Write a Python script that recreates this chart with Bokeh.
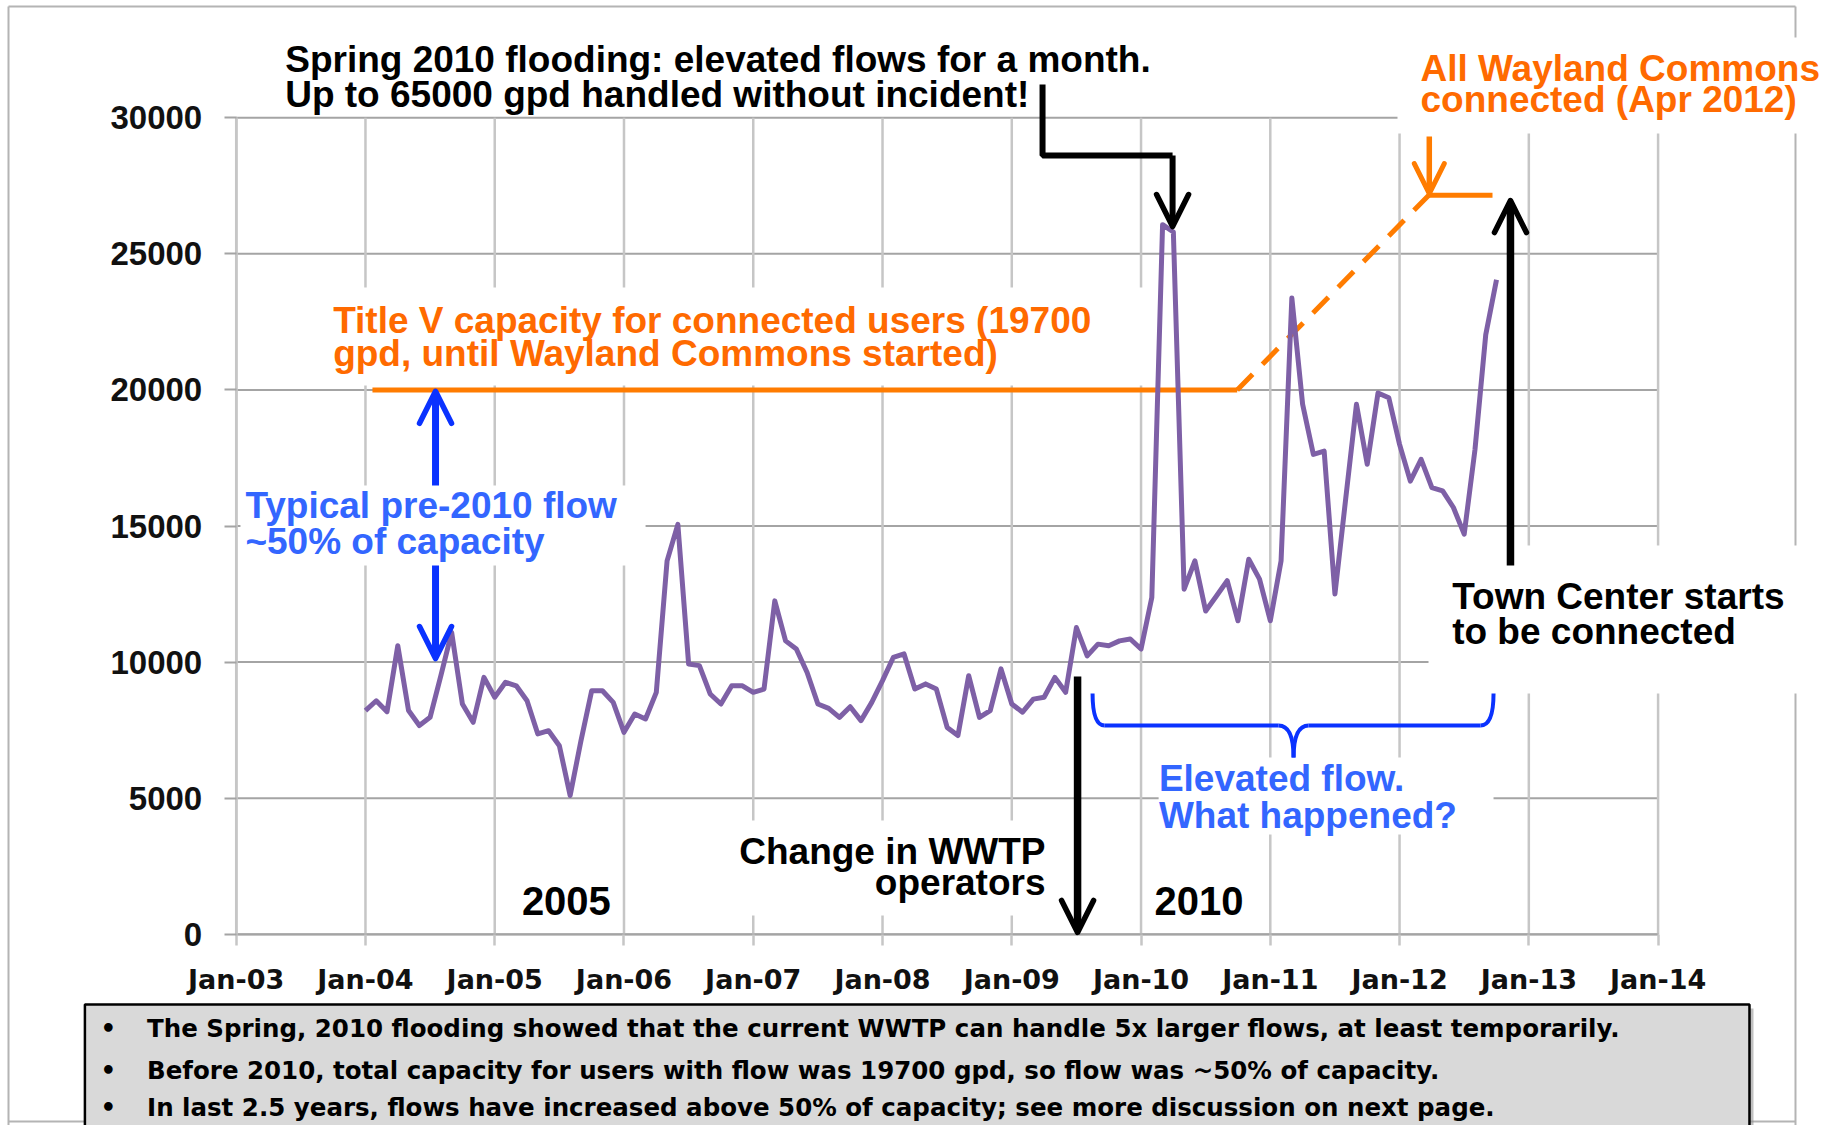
from bokeh.plotting import figure
from bokeh.models import Range1d, FixedTicker, Arrow, OpenHead
from bokeh.core.properties import value
from bokeh.embed import file_html
from bokeh.resources import INLINE

# ---------------- data ----------------
start_year = 2004  # first monthly reading: Jan-2004
flow_gpd = [
    8220, 8580, 8180, 10600, 8220, 7670, 7970, 9500, 11090, 8460, 7790, 9440,      # 2004
    8710, 9260, 9130, 8580, 7360, 7480, 6930, 5100, 7100, 8950, 8950, 8520,        # 2005
    7420, 8090, 7910, 8890, 13720, 15060, 9930, 9870, 8830, 8460, 9130, 9130,      # 2006
    8890, 9010, 12250, 10780, 10480, 9620, 8460, 8300, 7970, 8360, 7850, 8520,     # 2007
    9320, 10170, 10300, 9010, 9200, 9010, 7600, 7300, 9500, 7970, 8220, 9750,      # 2008
    8460, 8160, 8640, 8710, 9440, 8890, 11270, 10230, 10660, 10600, 10780, 10850,  # 2009
    10480, 12370, 26070, 25800, 12680, 13720, 11880, 12430, 12990, 11520, 13780, 13050,  # 2010
    11520, 13720, 23380, 19470, 17630, 17750, 12500, 16000, 19470, 17270, 19890, 19710,  # 2011
    18000, 16650, 17450, 16410, 16290, 15680, 14700, 17800, 22030, 24050,          # 2012
]
month_x = [start_year + i / 12 for i in range(len(flow_gpd))]

x_tick_values = [2003, 2004, 2005, 2006, 2007, 2008, 2009, 2010, 2011, 2012, 2013, 2014]
x_tick_labels = ["Jan-03", "Jan-04", "Jan-05", "Jan-06", "Jan-07", "Jan-08",
                 "Jan-09", "Jan-10", "Jan-11", "Jan-12", "Jan-13", "Jan-14"]
y_tick_values = [0, 5000, 10000, 15000, 20000, 25000, 30000]
y_tick_labels = ["0", "5000", "10000", "15000", "20000", "25000", "30000"]

# capacity line (Title V, then ramp after Wayland Commons, Apr 2012)
capacity_x = [2004.054, 2010.744, 2012.226, 2012.719]
capacity_y = [20000, 20000, 27150, 27150]

bullets = [
    "The Spring, 2010 flooding showed that the current WWTP can handle 5x larger flows, at least temporarily.",
    "Before 2010, total capacity for users with flow was 19700 gpd, so flow was ~50% of capacity.",
    "In last 2.5 years, flows have increased above 50% of capacity; see more discussion on next page.",
]

# ---------------- styles ----------------
FONT = value("Liberation Sans")
PURPLE = "#7E60A6"
ORANGE = "#FF7C00"
ORANGE_TXT = "#FF6A00"
BLUE = "#0A32FF"
BLUE_TXT = "#3366FF"
GRID_H = "#a4a4a4"
GRID_V = "#c6c6c6"
FRAME = "#b4b4b4"

X0, X1 = 2001.1765, 2015.388
Y0, Y1 = -7024, 34306

p = figure(width=1837, height=1125,
           x_range=Range1d(X0, X1), y_range=Range1d(Y0, Y1),
           output_backend="svg", toolbar_location=None, title=None,
           min_border=0, min_border_left=0, min_border_right=0,
           min_border_top=0, min_border_bottom=0)
p.outline_line_color = None
p.xgrid.visible = False
p.ygrid.visible = False
p.background_fill_color = "white"
p.border_fill_color = "white"

# axes inside the frame
xa = p.xaxis[0]
xa.fixed_location = 0
xa.bounds = (x_tick_values[0], x_tick_values[-1])
xa.ticker = FixedTicker(ticks=x_tick_values)
xa.major_label_overrides = dict(zip(x_tick_values, x_tick_labels))
xa.axis_line_color = GRID_H
xa.axis_line_width = 2
xa.major_tick_line_color = GRID_V
xa.major_tick_line_width = 2.5
xa.major_tick_out = 11
xa.major_tick_in = 0
xa.minor_tick_line_color = None
xa.major_label_standoff = 19
xa.major_label_text_font = "DejaVu Sans"
xa.major_label_text_font_style = "bold"
xa.major_label_text_font_size = "27px"
xa.major_label_text_color = "#111111"

ya = p.yaxis[0]
ya.fixed_location = x_tick_values[0]
ya.bounds = (y_tick_values[0], y_tick_values[-1])
ya.ticker = FixedTicker(ticks=y_tick_values)
ya.major_label_overrides = dict(zip(y_tick_values, y_tick_labels))
ya.axis_line_color = GRID_V
ya.axis_line_width = 2.5
ya.major_tick_line_color = GRID_H
ya.major_tick_line_width = 2
ya.major_tick_out = 12
ya.major_tick_in = 0
ya.minor_tick_line_color = None
ya.major_label_standoff = 22
ya.major_label_text_font = "Liberation Sans"
ya.major_label_text_font_style = "bold"
ya.major_label_text_font_size = "33px"
ya.major_label_text_color = "#111111"

# outer slide frame (left, right, top, bottom)
p.segment(x0=[2001.2384, 2015.063, 2001.2384, 2001.2384],
          y0=[Y0, Y0, 34085, -6877],
          x1=[2001.2384, 2015.063, 2015.063, 2015.063],
          y1=[34085, 34085, 34085, -6877],
          line_color=FRAME, line_width=2)

# gridlines
n_y = len(y_tick_values)
n_x = len(x_tick_values)
p.segment(x0=[x_tick_values[0]] * n_y, y0=y_tick_values, x1=[x_tick_values[-1]] * n_y, y1=y_tick_values,
          line_color=GRID_H, line_width=2)
p.segment(x0=x_tick_values, y0=[y_tick_values[0]] * n_x, x1=x_tick_values, y1=[y_tick_values[-1]] * n_x,
          line_color=GRID_V, line_width=2.5)

# white text backgrounds
p.quad(left=[2003.730, 2003.033, 2006.863, 2012.224, 2010.136, 2011.984],
       right=[2010.021, 2006.167, 2009.377, X1, 2012.727, X1],
       bottom=[20162, 13549, 691, 8847, 3666, 29420],
       top=[23762, 16488, 4181, 14284, 6495, 32947],
       fill_color="white", line_color=None)

# capacity line
p.line(capacity_x[0:2], capacity_y[0:2], line_color=ORANGE, line_width=5)
p.line(capacity_x[1:3], capacity_y[1:3], line_color=ORANGE, line_width=5, line_dash="22 14")
p.line(capacity_x[2:4], capacity_y[2:4], line_color=ORANGE, line_width=5)

# flow series
p.line(month_x, flow_gpd, line_color=PURPLE, line_width=5, line_join="round")

# brace under "Elevated flow"
p.segment(x0=[2009.718, 2011.296], y0=[7671, 7671], x1=[2011.064, 2012.626], y1=[7671, 7671],
          line_color=BLUE, line_width=4)
p.quadratic(x0=[2009.625, 2011.064, 2011.180, 2012.626],
            y0=[8847, 7671, 6495, 7671],
            x1=[2009.718, 2011.180, 2011.296, 2012.727],
            y1=[7671, 6495, 7671, 8847],
            cx=[2009.625, 2011.180, 2011.180, 2012.727],
            cy=[7671, 7671, 7671, 7671],
            line_color=BLUE, line_width=4)

# elbow connector for the flooding note
p.line([2009.238, 2009.238, 2010.244], [31220, 28612, 28612], line_color="black", line_width=6)

# texts (dy: small upward baseline correction, in gpd units)
def txt(xs, ys, texts, color, size, align="left", font=FONT, dy=435):
    p.text(x=xs, y=[v + dy for v in ys], text=texts, text_color=color, text_font=font,
           text_font_style="bold", text_font_size=size, text_align=align,
           text_baseline="alphabetic")

txt([2003.379, 2003.379, 2012.407, 2012.407],
    [31709, 30412, 11958, 10694],
    ["Spring 2010 flooding: elevated flows for a month.",
     "Up to 65000 gpd handled without incident!",
     "Town Center starts", "to be connected"], "black", "37px")
txt([2009.261, 2009.261], [2612, 1462], ["Change in WWTP", "operators"], "black", "37px", "right")
txt([2005.210, 2010.104], [735, 735], ["2005", "2010"], "black", "40px", dy=490)
txt([2003.750, 2003.750, 2012.162, 2012.162],
    [22120, 20897, 31367, 30228],
    ["Title V capacity for connected users (19700",
     "gpd, until Wayland Commons started)",
     "All Wayland Commons", "connected (Apr 2012)"], ORANGE_TXT, "37px")
txt([2003.071, 2003.071, 2010.138, 2010.138],
    [15323, 13979, 5283, 3935],
    ["Typical pre-2010 flow", "~50% of capacity", "Elevated flow.", "What happened?"],
    BLUE_TXT, "37px")

# bottom summary box
p.quad(left=[2001.860], right=[2014.738], bottom=[-7600], top=[-2726],
       fill_color="#8c8c8c", fill_alpha=0.55, line_color=None)
p.quad(left=[2001.8295], right=[2014.707], bottom=[-7400], top=[-2579],
       fill_color="#d9d9d9", line_color="black", line_width=2.5)
bullet_y = [-3681, -5250, -6600]
txt([2001.950] * 3, bullet_y, ["\u2022"] * 3, "black", "24.5px", font=value("DejaVu Sans"), dy=230)
txt([2002.310] * 3, bullet_y, bullets, "black", "24.5px", font=value("DejaVu Sans"), dy=230)

# arrows
def arrow(x0, y0, x1, y1, color, shaft, size, head_w):
    p.add_layout(Arrow(end=OpenHead(size=size, line_color=color, line_width=head_w,
                                    line_cap="round", line_join="round"),
                       x_start=x0, y_start=y0, x_end=x1, y_end=y1,
                       line_color=color, line_width=shaft))

arrow(2010.244, 28612, 2010.244, 26003, "black", 6, 32, 5.5)
arrow(2009.509, 9471, 2009.509, 70, "black", 7.5, 32, 5.5)
arrow(2012.858, 13549, 2012.858, 26958, "black", 7.5, 32, 5.5)
arrow(2004.542, 16488, 2004.542, 19950, BLUE, 7, 32, 5.5)
arrow(2004.542, 13549, 2004.542, 10132, BLUE, 7, 32, 5.5)
arrow(2012.23, 29310, 2012.23, 27215, ORANGE, 5.5, 30, 5)

open("out.html", "w").write(file_html(p, INLINE))
